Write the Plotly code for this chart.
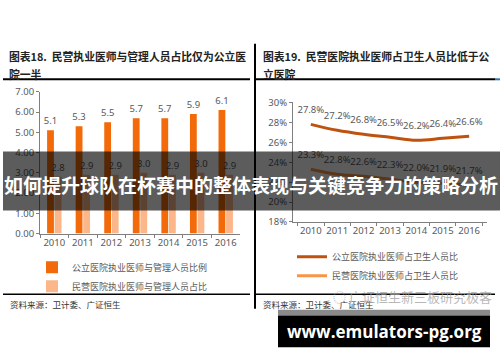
import plotly.graph_objects as go

W, H = 500, 362

years = ["2010", "2011", "2012", "2013", "2014", "2015", "2016"]

# Left chart (图表18)
public_ratio = [5.1, 5.3, 5.5, 5.7, 5.7, 5.9, 6.1]
private_ratio = [2.8, 2.9, 2.9, 3.0, 2.9, 3.0, 2.9]
left_names = ["公立医院执业医师与管理人员比例", "民营医院执业医师与管理人员占比"]

# Right chart (图表19)
public_share = [27.8, 27.2, 26.8, 26.5, 26.2, 26.4, 26.6]
private_share = [23.3, 22.8, 22.6, 22.3, 22.0, 21.9, 21.7]
right_names = ["公立医院执业医师占卫生人员比", "民营医院执业医师占卫生人员比"]

title_left = ["图表18.  民营执业医师与管理人员占比仅为公立医", "院一半"]
title_right = ["图表19.  民营医院执业医师占卫生人员比低于公", "立医院"]
source_text = "资料来源：卫计委、广证恒生"
banner_text = "如何提升球队在杯赛中的整体表现与关键竞争力的策略分析"
watermark_text = "广证恒生新三板研究极客"
url_text = "www.emulators-pg.org"

GRAY = "#595959"
FONT = "Noto Sans, Noto Sans CJK SC, sans-serif"
CJK = "Noto Sans CJK SC, sans-serif"


def px(x):
    return x / W


def py(y):
    return 1 - y / H


fig = go.Figure()

fig.add_trace(go.Bar(
    x=years, y=public_ratio, name=left_names[0],
    marker=dict(color="#F26A0A", line=dict(width=0)),
    text=[f"{v:.1f}" for v in public_ratio], textposition="outside", constraintext="none",
    textfont=dict(size=9.5, color=GRAY), cliponaxis=False,
    xaxis="x", yaxis="y", legend="legend",
))
fig.add_trace(go.Bar(
    x=years, y=private_ratio, name=left_names[1],
    marker=dict(color="#FBB68A", line=dict(width=0)),
    text=[f"{v:.1f}" for v in private_ratio], textposition="outside", constraintext="none",
    textfont=dict(size=9.5, color=GRAY), cliponaxis=False,
    xaxis="x", yaxis="y", legend="legend",
))

fig.add_trace(go.Scatter(
    x=years, y=public_share, name=right_names[0], mode="lines+markers+text",
    line=dict(color="#BE5310", width=3, shape="spline"),
    marker=dict(size=13, color="rgba(0,0,0,0)"),
    text=[f"{v:.1f}%" for v in public_share], textposition="top center",
    textfont=dict(size=9.5, color=GRAY), cliponaxis=False,
    xaxis="x2", yaxis="y2", legend="legend2",
))
fig.add_trace(go.Scatter(
    x=years, y=private_share, name=right_names[1], mode="lines+markers+text",
    line=dict(color="#F79646", width=3, shape="spline"),
    marker=dict(size=13, color="rgba(0,0,0,0)"),
    text=[f"{v:.1f}%" for v in private_share], textposition="top center",
    textfont=dict(size=9.5, color=GRAY), cliponaxis=False,
    xaxis="x2", yaxis="y2", legend="legend2",
))

axis_common = dict(
    showline=True, linecolor="#7f7f7f", linewidth=1, ticks="outside",
    ticklen=3, tickcolor="#7f7f7f", showgrid=False, zeroline=False,
    tickfont=dict(size=9.5, color=GRAY, family=FONT), fixedrange=True,
)

shapes = [
    dict(type="line", xref="paper", yref="paper", x0=px(3), x1=px(250), y0=py(75), y1=py(75),
         line=dict(color="black", width=2)),
    dict(type="line", xref="paper", yref="paper", x0=px(255), x1=px(495), y0=py(75), y1=py(75),
         line=dict(color="black", width=2)),
    dict(type="line", xref="paper", yref="paper", x0=px(495), x1=px(500), y0=py(75), y1=py(75),
         line=dict(color="#2E75B6", width=2)),
    dict(type="line", xref="paper", yref="paper", x0=px(255), x1=px(255), y0=py(38), y1=py(313),
         line=dict(color="black", width=2)),
    dict(type="line", xref="paper", yref="paper", x0=px(3), x1=px(250), y0=py(298), y1=py(298),
         line=dict(color="black", width=1.5)),
    dict(type="line", xref="paper", yref="paper", x0=px(255), x1=px(495), y0=py(298), y1=py(298),
         line=dict(color="black", width=1.5)),
    dict(type="rect", xref="paper", yref="paper", x0=px(3), x1=px(500), y0=py(211), y1=py(150),
         fillcolor="rgba(0,0,0,0.64)", line=dict(width=0), layer="above"),
    dict(type="rect", xref="paper", yref="paper", x0=px(278), x1=px(490), y0=py(320), y1=py(314),
         fillcolor="#8a8a8a", line=dict(width=0), layer="above"),
    dict(type="rect", xref="paper", yref="paper", x0=px(278), x1=px(490), y0=py(353), y1=py(320),
         fillcolor="black", line=dict(width=0), layer="above"),
]

annotations = []
for i, line in enumerate(title_left):
    annotations.append(dict(x=px(7), y=py(51 + 18 * i), xref="paper", yref="paper", text=f"<b>{line}</b>",
                            showarrow=False, xanchor="left", yanchor="middle",
                            font=dict(size=10.8, color="#222", family=CJK)))
for i, line in enumerate(title_right):
    annotations.append(dict(x=px(261), y=py(51 + 18 * i), xref="paper", yref="paper", text=f"<b>{line}</b>",
                            showarrow=False, xanchor="left", yanchor="middle",
                            font=dict(size=10.8, color="#222", family=CJK)))
for x0 in (8, 261):
    annotations.append(dict(x=px(x0), y=py(308), xref="paper", yref="paper", text=source_text,
                            showarrow=False, xanchor="left", yanchor="middle",
                            font=dict(size=8.5, color="#333", family=CJK)))
annotations.append(dict(x=px(331), y=py(300), xref="paper", yref="paper", text="◌ " + watermark_text,
                        showarrow=False, xanchor="left", yanchor="middle",
                        font=dict(size=13, color="rgba(160,160,160,0.75)", family=CJK)))
annotations.append(dict(x=px(251), y=py(184), xref="paper", yref="paper", text=f"<b>{banner_text}</b>",
                        showarrow=False, xanchor="center", yanchor="middle",
                        font=dict(size=19, color="white", family=CJK)))
annotations.append(dict(x=px(384), y=py(337), xref="paper", yref="paper", text=f"<b>{url_text}</b>",
                        showarrow=False, xanchor="center", yanchor="middle",
                        font=dict(size=17, color="white", family="Open Sans, sans-serif")))

fig.update_layout(
    width=W, height=H, margin=dict(l=0, r=0, t=0, b=0),
    paper_bgcolor="white", plot_bgcolor="white",
    font=dict(family=FONT, color=GRAY, size=9.5),
    barmode="group", bargap=0.47, bargroupgap=0.1,
    xaxis=dict(domain=[px(40), px(240)], anchor="y", type="category", tickson="boundaries",
               tickangle=0, **axis_common),
    yaxis=dict(domain=[py(235), py(88)], anchor="x", range=[0, 7], dtick=1, tickformat=".2f", **axis_common),
    xaxis2=dict(domain=[px(293), px(487)], anchor="y2", type="category", tickson="boundaries",
                tickangle=0, **axis_common),
    yaxis2=dict(domain=[py(223), py(99)], anchor="x2", range=[18, 30], dtick=2, ticksuffix="%", **axis_common),
    legend=dict(x=px(32), y=py(255), xanchor="left", yanchor="top", bgcolor="rgba(0,0,0,0)",
                font=dict(size=9, color=GRAY, family=CJK), traceorder="normal"),
    legend2=dict(x=px(292), y=py(244), xanchor="left", yanchor="top", bgcolor="rgba(0,0,0,0)",
                 font=dict(size=9, color=GRAY, family=CJK), traceorder="normal"),
    shapes=shapes, annotations=annotations, showlegend=True,
)

fig.write_html(
    "out.html",
    config={"displayModeBar": False},
    post_script="document.body.style.margin='0';document.body.style.overflow='hidden';",
)
